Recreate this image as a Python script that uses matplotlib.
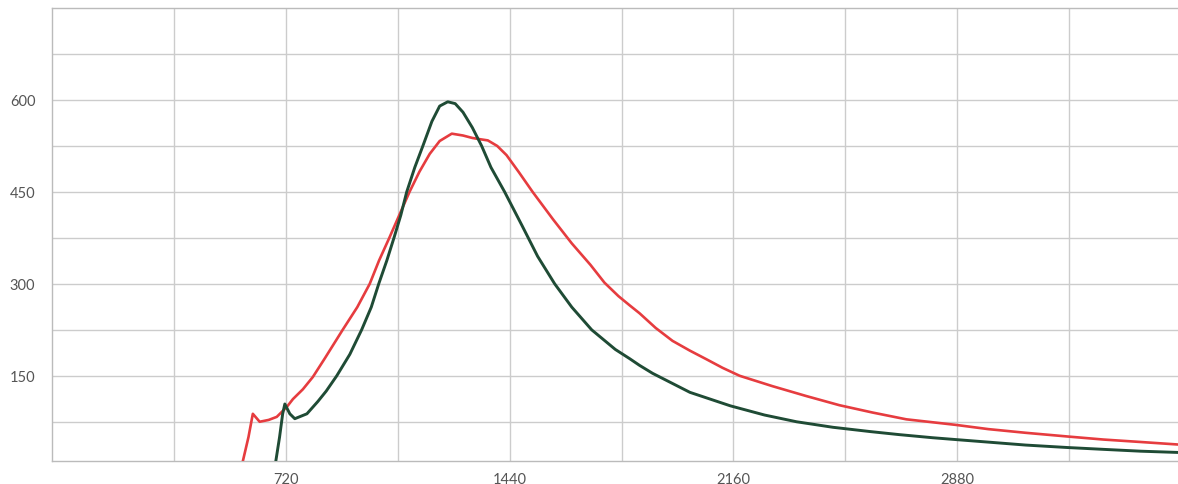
import matplotlib
matplotlib.use('Agg')
import matplotlib.pyplot as plt
import numpy as np

# curva roja
rojo_x = [582, 600, 614, 636, 665, 691, 723, 743, 775, 807, 845, 903, 950, 990,
          1020, 1053, 1085, 1118, 1150, 1183, 1215, 1254, 1290, 1320, 1344, 1370,
          1400, 1430, 1470, 1514, 1580, 1640, 1700, 1745, 1790, 1826, 1858, 1910,
          1964, 2020, 2073, 2125, 2180, 2286, 2394, 2501, 2608, 2716, 2874, 2980,
          3100, 3234, 3350, 3470, 3587]
rojo_y = [11, 50, 88, 75, 78, 83, 99, 112, 128, 148, 178, 225, 262, 300,
          338, 375, 412, 450, 483, 512, 533, 545, 542, 538, 536, 534,
          525, 510, 482, 450, 405, 366, 331, 302, 280, 265, 252, 228,
          207, 191, 177, 163, 150, 133, 117, 102, 90, 79, 70, 63,
          57, 51, 46, 42, 38]

# curva verde
verde_x = [688, 700, 710, 717, 733, 749, 788, 823, 850, 884, 926, 964, 995, 1019,
           1045, 1068, 1090, 1109, 1135, 1161, 1190, 1215, 1241, 1265, 1290, 1320,
           1350, 1380, 1424, 1480, 1530, 1585, 1640, 1704, 1780, 1826, 1858, 1900,
           2020, 2150, 2260, 2363, 2480, 2600, 2694, 2800, 2874, 3000, 3100, 3234,
           3350, 3470, 3587]
verde_y = [11, 50, 88, 104, 88, 80, 88, 108, 125, 150, 185, 225, 262, 300,
           338, 375, 412, 450, 490, 525, 565, 590, 597, 594, 580, 555,
           525, 490, 450, 395, 345, 300, 262, 225, 193, 178, 167, 154,
           123, 101, 86, 75, 66, 59, 54, 49, 46, 41, 37, 33,
           30, 27, 25]

x_ticks = [720, 1440, 2160, 2880]
y_ticks = [150, 300, 450, 600]

fig = plt.figure(figsize=(11.78, 4.85), dpi=100)
ax = fig.add_axes([52 / 1178, 23 / 485, 1 - 52 / 1178, 453 / 485])

ax.plot(rojo_x, rojo_y, color='#e63c3f', lw=1.9, zorder=3)
ax.plot(verde_x, verde_y, color='#1f4b35', lw=2.1, zorder=4)

ax.set_xlim(-32, 3590)
ax.set_ylim(11, 750)

ax.set_xticks(x_ticks)
ax.set_xticks(np.arange(360, 3590, 360), minor=True)
ax.set_yticks(y_ticks)
ax.set_yticks(np.arange(75, 750, 75), minor=True)

ax.grid(True, which='both', color='#cccccc', lw=1.0, zorder=0)
ax.tick_params(which='both', length=0)
ax.tick_params(axis='y', pad=12, labelsize=10.5, labelcolor='#555555')
ax.tick_params(axis='x', pad=8, labelsize=10.5, labelcolor='#555555')

for lado in ['left', 'top', 'bottom']:
    ax.spines[lado].set_color('#bbbbbb')
    ax.spines[lado].set_linewidth(1.0)
ax.spines['right'].set_visible(False)

for lab in ax.get_xticklabels() + ax.get_yticklabels():
    lab.set_fontfamily(['Lato', 'DejaVu Sans'])

fig.savefig('out.png', dpi=100)
